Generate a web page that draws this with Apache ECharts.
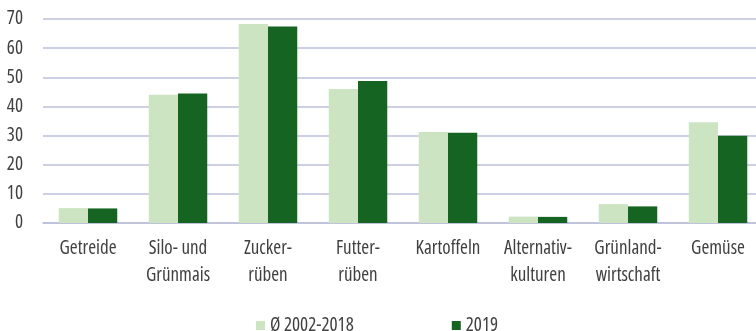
<!DOCTYPE html>
<html>
<head>
<meta charset="utf-8">
<script src="https://cdn.jsdelivr.net/npm/echarts@6/dist/echarts.min.js"></script>
<style>
  html, body { margin: 0; padding: 0; background: #ffffff; }
  #chart { width: 756px; height: 331px; }
</style>
</head>
<body>
<div id="chart"></div>
<script>
// Crops (two-line labels split with \n)
var categories = [
  'Getreide', 'Silo- und\nGrünmais', 'Zucker-\nrüben', 'Futter-\nrüben',
  'Kartoffeln', 'Alternativ-\nkulturen', 'Grünland-\nwirtschaft', 'Gemüse'
];
var seriesNames = ['Ø 2002-2018', '2019'];
var avg2002to2018 = [5.1, 44.0, 68.3, 46.0, 31.2, 2.2, 6.5, 34.6];
var year2019 = [5.0, 44.4, 67.4, 48.7, 31.0, 2.1, 5.7, 29.9];
var yTicks = [0, 10, 20, 30, 40, 50, 60, 70];

// condensed cut of Open Sans, selected through the font-stretch keyword
var FONT = '"Open Sans"';
var STRETCH = 'condensed';
var LIGHT = '#cde4c3';
var DARK = '#166422';
var GRID = '#bcc0d8';
var TEXT = '#404040';

var chart = echarts.init(document.getElementById('chart'), null, { renderer: 'canvas' });
chart.setOption({
  animation: false,
  textStyle: { fontFamily: FONT, fontStyle: STRETCH },
  grid: {
    left: 43, top: 19, width: 720, height: 204,
    containLabel: false, outerBoundsMode: 'none'
  },
  legend: {
    left: 251, top: 311,
    itemWidth: 9, itemHeight: 9, itemGap: 98,
    icon: 'rect',
    textStyle: { fontFamily: FONT, fontStyle: STRETCH, fontSize: 19, color: TEXT, padding: [1, 0, 0, 0] },
    data: seriesNames
  },
  xAxis: {
    type: 'category',
    data: categories,
    axisLine: { show: true, lineStyle: { color: GRID, width: 1.5 } },
    axisTick: { show: false },
    axisLabel: {
      interval: 0, margin: 12,
      fontFamily: FONT, fontStyle: STRETCH, fontSize: 19, color: TEXT, lineHeight: 27
    }
  },
  yAxis: {
    type: 'value',
    min: 0, max: yTicks[yTicks.length - 1], interval: yTicks[1] - yTicks[0],
    axisLine: { show: false },
    axisTick: { show: false },
    splitLine: { lineStyle: { color: GRID, width: 1.5 } },
    axisLabel: { margin: 20, fontFamily: FONT, fontStyle: STRETCH, fontSize: 19, color: TEXT }
  },
  series: [
    {
      name: seriesNames[0], type: 'bar', data: avg2002to2018,
      itemStyle: { color: LIGHT },
      barGap: '0%', barCategoryGap: '35%'
    },
    {
      name: seriesNames[1], type: 'bar', data: year2019,
      itemStyle: { color: DARK },
      barGap: '0%', barCategoryGap: '35%'
    }
  ]
});
</script>
</body>
</html>
